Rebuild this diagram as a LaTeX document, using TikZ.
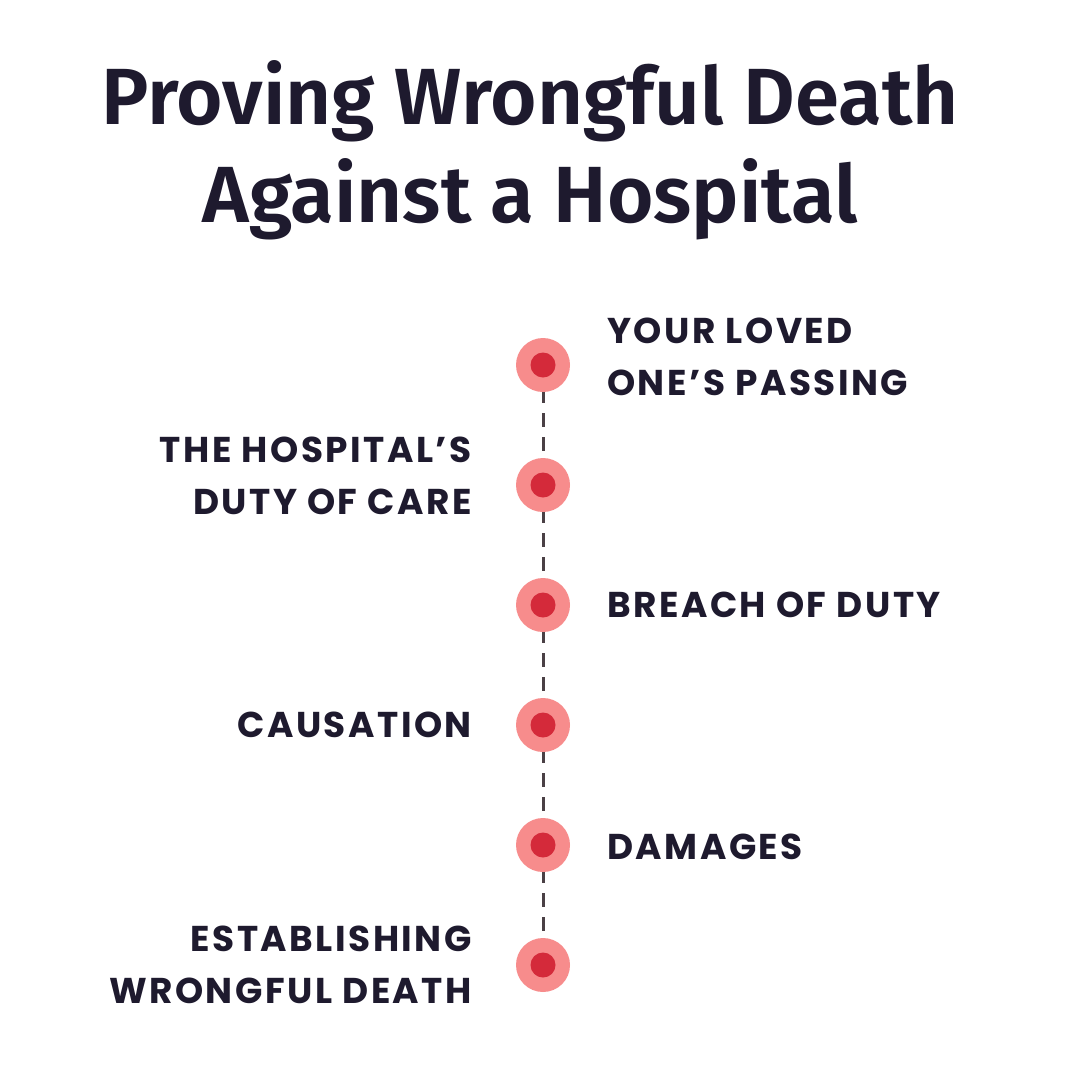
\documentclass[tikz,border=0pt]{standalone}
\usepackage{fontspec}
\setmainfont{Poppins}[UprightFont=*-Bold,LetterSpace=7]
\newfontfamily\titlefont{Fira Sans}[UprightFont=* SemiBold]
\definecolor{ink}{HTML}{1E1A2E}
\definecolor{outerc}{HTML}{F78C8C}
\definecolor{innerc}{HTML}{D42A3A}
\definecolor{dashc}{HTML}{4A4045}
\begin{document}
\begin{tikzpicture}[x=1bp,y=-1bp,
  lab/.style={text=ink,font=\fontsize{36}{52}\selectfont,align=left,anchor=west,inner sep=0},
  labl/.style={lab,align=right,anchor=east},
  ttl/.style={text=ink,font=\titlefont\fontsize{80}{98}\selectfont,align=center,inner sep=0}]
\useasboundingbox[fill=white] (0,0) rectangle (1080,1080);
\node[ttl] (title) at (530,150) {Proving Wrongful Death\\Against a Hospital};
\foreach \i/\y in {1/365,2/485,3/605,4/725,5/845,6/965}{
  \coordinate (d\i) at (543,\y);
}
\draw[dashc,line width=3bp,dash pattern=on 14bp off 10bp] (d1) -- (d6);
\foreach \i in {1,...,6}{
  \fill[outerc] (d\i) circle (27);
  \fill[innerc] (d\i) circle (12.5);
}
\node[lab] (l1) at (607,357) {YOUR LOVED\\ONE’S PASSING};
\node[labl] (l2) at (472,476) {THE HOSPITAL’S\\DUTY OF CARE};
\node[lab] (l3) at (607,605) {BREACH OF DUTY};
\node[labl] (l4) at (472,725) {CAUSATION};
\node[lab] (l5) at (607,847) {DAMAGES};
\node[labl] (l6) at (472,965) {ESTABLISHING\\WRONGFUL DEATH};
\end{tikzpicture}
\end{document}
